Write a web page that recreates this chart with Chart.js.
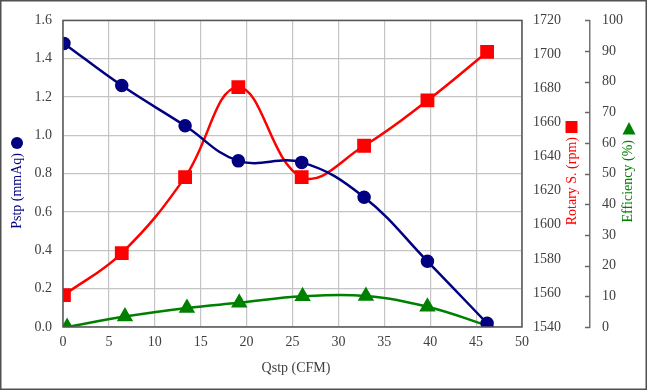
<!DOCTYPE html>
<html>
<head>
<meta charset="utf-8">
<script src="https://cdn.jsdelivr.net/npm/chart.js@4/dist/chart.umd.min.js"></script>
<style>
	html, body { margin: 0; padding: 0; background: #fff; }
	#wrap { width: 647px; height: 390px; position: relative; }
</style>
</head>
<body>
<div id="wrap"><canvas id="chart"></canvas></div>
<script>
// values
var qstp					 =	[0.1, 6.4, 13.3, 19.1, 26.0, 32.8, 39.7, 46.2];
var qstpEff					 =	[0.45, 6.75, 13.5, 19.2, 26.1, 33.0, 39.7, 46.3];
var pstp					 =	[1.48, 1.26, 1.05, 0.867, 0.859, 0.677, 0.343, 0.019];
var rotary					 =	[1558.7, 1583.4, 1628, 1680.8, 1628, 1646.4, 1673, 1701.5];
var efficiency				 =	[0, 3.4, 6.2, 7.9, 10.0, 10.1, 6.6, 0.4];

var xTicks					 =	{ min: 0, max: 50, step: 5 };
var pTicks					 =	{ min: 0, max: 1.6, step: 0.2 };
var rTicks					 =	{ min: 1540, max: 1720, step: 20 };
var eTicks					 =	{ min: 0, max: 100, step: 10 };

var navy					 =	"#000080";
var red						 =	"#ff0000";
var green					 =	"#008000";
var tickColour				 =	"#404040";
var serif					 =	"'Liberation Serif', 'DejaVu Serif', serif";

/**
 * Zips x and y arrays into chart points
 */
function points(xs, ys) {
	
	return xs.map(function (x, i) { return { x: x, y: ys[i] }; });
	
}

/**
 * Fixes a scale box size so the plot area lands where the reference has it
 */
function fixSize(prop, size) {
	
	return function (scale) { scale[prop] = size; };
	
}

/**
 * Draws frame, axis titles and the efficiency axis ticks
 */
var decorations				 =	{
	id: "decorations",
	beforeDraw: function (chart) {
		var ctx				 =	chart.ctx;
		ctx.save();
		ctx.fillStyle		 =	"#fff";
		ctx.fillRect(0, 0, chart.width, chart.height);
		ctx.restore();
	},
	afterDraw: function (chart) {
		
		var ctx				 =	chart.ctx;
		var area			 =	chart.chartArea;
		var eff				 =	chart.scales.y2;
		
		ctx.save();
		
		// outer frame
		ctx.strokeStyle		 =	"#505050";
		ctx.lineWidth		 =	1.5;
		ctx.strokeRect(0.75, 0.75, chart.width - 1.5, chart.height - 1.5);
		
		// plot frame
		ctx.strokeStyle		 =	"#555";
		ctx.lineWidth		 =	1.5;
		ctx.strokeRect(area.left, area.top, area.right - area.left, area.bottom - area.top);
		
		// efficiency axis tick marks (pointing inward)
		ctx.strokeStyle		 =	"#666";
		ctx.lineWidth		 =	1.5;
		eff.ticks.forEach(function (t) {
			var y			 =	Math.round(eff.getPixelForValue(t.value)) + 0.5;
			ctx.beginPath();
			ctx.moveTo(eff.left - 5, y);
			ctx.lineTo(eff.left, y);
			ctx.stroke();
		});
		
		ctx.font			 =	"14px " + serif;
		ctx.textBaseline	 =	"middle";
		
		// x title
		ctx.fillStyle		 =	tickColour;
		ctx.textAlign		 =	"center";
		ctx.fillText("Qstp (CFM)", 296, 368);
		
		// rotated y titles
		var titles			 =	[
			{ text: "Pstp (mmAq)", x: 17, y: 153, colour: navy },
			{ text: "Rotary S. (rpm)", x: 572, y: 137, colour: red },
			{ text: "Efficiency (%)", x: 628, y: 140, colour: green },
		];
		titles.forEach(function (t) {
			ctx.save();
			ctx.translate(t.x, t.y);
			ctx.rotate(-Math.PI / 2);
			ctx.fillStyle	 =	t.colour;
			ctx.textAlign	 =	"right";
			ctx.fillText(t.text, 0, 0);
			ctx.restore();
		});
		
		// title symbols
		ctx.fillStyle		 =	navy;
		ctx.beginPath();
		ctx.arc(17, 143, 6, 0, Math.PI * 2);
		ctx.fill();
		
		ctx.fillStyle		 =	red;
		ctx.fillRect(565.5, 121, 12, 12);
		
		ctx.fillStyle		 =	green;
		ctx.beginPath();
		ctx.moveTo(629, 122);
		ctx.lineTo(635.5, 134.5);
		ctx.lineTo(622.5, 134.5);
		ctx.closePath();
		ctx.fill();
		
		ctx.restore();
		
	}
};

var tickFont				 =	{ family: serif, size: 14 };

var config					 =	{
	type: "line",
	data: {
		datasets: [
			{
				label: "Pstp (mmAq)",
				data: points(qstp, pstp),
				yAxisID: "y",
				borderColor: navy,
				backgroundColor: navy,
				borderWidth: 2.5,
				pointStyle: "circle",
				pointRadius: 5.5,
				tension: 0.4,
			},
			{
				label: "Rotary S. (rpm)",
				data: points(qstp, rotary),
				yAxisID: "y1",
				borderColor: red,
				backgroundColor: red,
				borderWidth: 2.5,
				pointStyle: "rect",
				pointRadius: 8,
				tension: 0.4,
			},
			{
				label: "Efficiency (%)",
				data: points(qstpEff, efficiency),
				yAxisID: "y2",
				borderColor: green,
				backgroundColor: green,
				borderWidth: 2.5,
				pointStyle: "triangle",
				pointRadius: 7,
				tension: 0.4,
			},
		]
	},
	options: {
		responsive: true,
		maintainAspectRatio: false,
		animation: false,
		layout: { padding: { top: 19, left: 0, right: 0, bottom: 0 } },
		plugins: {
			legend: { display: false },
			tooltip: { enabled: false },
		},
		scales: {
			x: {
				type: "linear",
				position: "bottom",
				min: xTicks.min,
				max: xTicks.max,
				afterFit: fixSize("height", 63),
				ticks: { stepSize: xTicks.step, color: tickColour, font: tickFont, padding: 7, maxRotation: 0 },
				grid: { color: "#c4c4c4", lineWidth: 1.2, drawTicks: false },
				border: { display: false },
			},
			y: {
				position: "left",
				min: pTicks.min,
				max: pTicks.max,
				afterFit: fixSize("width", 63),
				ticks: {
					stepSize: pTicks.step,
					color: tickColour,
					font: tickFont,
					padding: 11,
					callback: function (v) { return v.toFixed(1); }
				},
				grid: { color: "#c4c4c4", lineWidth: 1.2, drawTicks: false },
				border: { display: false },
			},
			y1: {
				position: "right",
				min: rTicks.min,
				max: rTicks.max,
				afterFit: fixSize("width", 68),
				ticks: {
					stepSize: rTicks.step,
					color: tickColour,
					font: tickFont,
					padding: 11,
					callback: function (v) { return String(v); }
				},
				grid: { drawOnChartArea: false, drawTicks: false },
				border: { display: false },
			},
			y2: {
				position: "right",
				min: eTicks.min,
				max: eTicks.max,
				afterFit: fixSize("width", 57),
				ticks: { stepSize: eTicks.step, color: tickColour, font: tickFont, padding: 12 },
				grid: { drawOnChartArea: false, drawTicks: false },
				border: { display: true, color: "#777", width: 1.5 },
			},
		}
	},
	plugins: [decorations]
};

new Chart(document.getElementById("chart"), config);
</script>
</body>
</html>
